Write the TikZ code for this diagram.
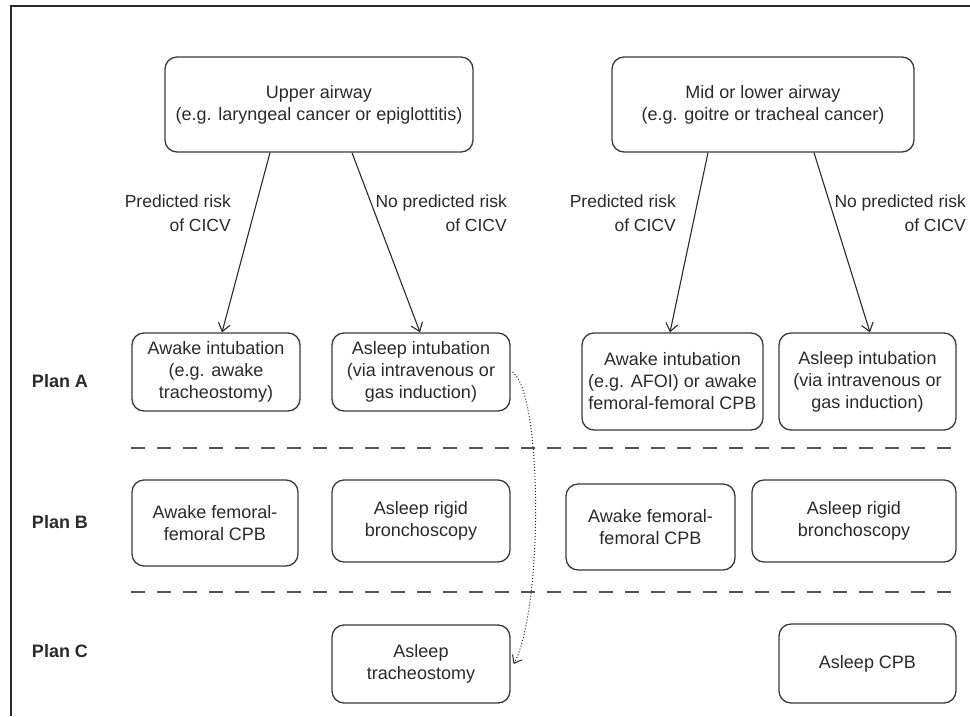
\documentclass[tikz,border=0pt]{standalone}
\usepackage{fontspec}
\setmainfont{Liberation Sans}
\usetikzlibrary{arrows.meta}
\definecolor{ink}{HTML}{2A2A2A}
\definecolor{boxline}{HTML}{3A3A3A}
\definecolor{dashcol}{HTML}{555555}
\tikzset{
  box/.style={draw=boxline, line width=1.3pt, rounded corners=12pt, align=center,
    text=ink, font=\fontsize{18}{22}\selectfont, inner sep=0pt},
  lbl/.style={align=right, anchor=east, text=ink, font=\fontsize{17.5}{24}\selectfont, inner sep=0pt},
  planlbl/.style={text=ink, font=\fontsize{18}{22}\selectfont\bfseries, inner sep=0pt},
  conn/.style={draw=ink, line width=1.1pt, -{Straight Barb[length=8pt,width=12pt]}},
  sep/.style={draw=dashcol, line width=1.3pt, dash pattern=on 14pt off 12pt},
  dotconn/.style={draw=ink, line width=1pt, dotted, -{Straight Barb[length=7pt,width=11pt]}}
}
\begin{document}
\begin{tikzpicture}[x=1pt,y=-1pt]
\useasboundingbox (0,0) rectangle (970,716);
% frame
\coordinate (fbl) at (11,716);
\coordinate (ftl) at (11,6);
\coordinate (ftr) at (970,6);
\draw[ink, line width=2pt] (fbl) -- (ftl) -- (ftr);

% top boxes
\node[box, minimum width=308pt, minimum height=95pt] (up) at (319,104.5) {Upper airway\\(e.g. laryngeal cancer or epiglottitis)};
\node[box, minimum width=302pt, minimum height=95pt] (mid) at (763,104.5) {Mid or lower airway\\(e.g. goitre or tracheal cancer)};

% plan A
\node[box, minimum width=168pt, minimum height=78pt] (A1) at (216,372) {Awake intubation\\(e.g. awake\\tracheostomy)};
\node[box, minimum width=178pt, minimum height=78pt] (A2) at (421,372) {Asleep intubation\\(via intravenous or\\gas induction)};
\node[box, minimum width=181pt, minimum height=97pt] (A3) at (672.5,381.5) {Awake intubation\\(e.g. AFOI) or awake\\femoral-femoral CPB};
\node[box, minimum width=177pt, minimum height=97pt] (A4) at (867.5,381.5) {Asleep intubation\\(via intravenous or\\gas induction)};

% plan B
\node[box, minimum width=166pt, minimum height=86pt] (B1) at (215,523) {Awake femoral-\\femoral CPB};
\node[box, minimum width=178pt, minimum height=82pt] (B2) at (421,521) {Asleep rigid\\bronchoscopy};
\node[box, minimum width=169pt, minimum height=86pt] (B3) at (650.5,527) {Awake femoral-\\femoral CPB};
\node[box, minimum width=204pt, minimum height=82pt] (B4) at (854,521) {Asleep rigid\\bronchoscopy};

% plan C
\node[box, minimum width=178pt, minimum height=78pt] (C1) at (421,664) {Asleep\\tracheostomy};
\node[box, minimum width=177pt, minimum height=79pt] (C2) at (867.5,663.5) {Asleep CPB};

% plan labels
\node[planlbl] (pA) at (60,381) {Plan A};
\node[planlbl] (pB) at (60,522) {Plan B};
\node[planlbl] (pC) at (60,651) {Plan C};

% separators
\coordinate (s1l) at (131,448);
\coordinate (s1r) at (955,448);
\coordinate (s2l) at (131,592);
\coordinate (s2r) at (955,592);
\draw[sep] (s1l) -- (s1r);
\draw[sep] (s2l) -- (s2r);

% connectors
\draw[conn] ([xshift=-49pt]up.south) -- ([xshift=6pt]A1.north);
\draw[conn] ([xshift=33pt]up.south) -- ([xshift=-1pt]A2.north);
\draw[conn] ([xshift=-55pt]mid.south) -- ([xshift=-2.5pt]A3.north);
\draw[conn] ([xshift=51pt]mid.south) -- ([xshift=2.5pt]A4.north);

% connector labels
\node[lbl] (l1) at (231,213) {Predicted risk\\of CICV};
\node[lbl] (l2) at (507,213) {No predicted risk\\of CICV};
\node[lbl] (l3) at (676,213) {Predicted risk\\of CICV};
\node[lbl] (l4) at (966,213) {No predicted risk\\of CICV};

% dotted curve
\draw[dotconn] ([xshift=2pt]A2.east) .. controls (543,395) and (543,610) .. ([xshift=3pt]C1.east);
\end{tikzpicture}
\end{document}
